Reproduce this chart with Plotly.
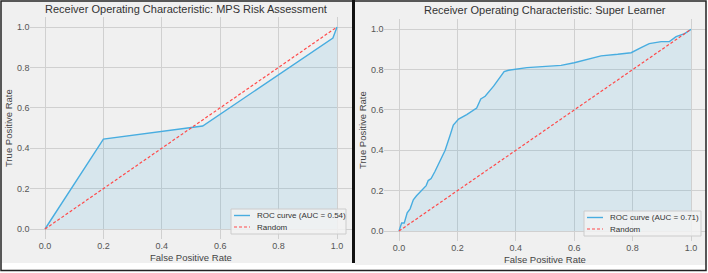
import plotly.graph_objects as go

# ---------------- data ----------------
mps_fpr = [0.0, 0.2, 0.54, 0.986, 1.0]
mps_tpr = [0.0, 0.445, 0.51, 0.945, 1.0]

sl_fpr = [0.0, 0.009, 0.018, 0.028, 0.038, 0.049, 0.06, 0.078, 0.093, 0.10, 0.11, 0.123,
          0.14, 0.158, 0.175, 0.186, 0.204, 0.232, 0.266, 0.28, 0.295, 0.324, 0.36, 0.375,
          0.438, 0.497, 0.555, 0.60, 0.692, 0.749, 0.795, 0.829, 0.857, 0.898, 0.926,
          0.949, 0.978, 1.0]
sl_tpr = [0.0, 0.04, 0.04, 0.09, 0.11, 0.155, 0.175, 0.20, 0.225, 0.25, 0.26, 0.295,
          0.345, 0.40, 0.475, 0.525, 0.555, 0.577, 0.61, 0.655, 0.668, 0.718, 0.79, 0.797,
          0.81, 0.817, 0.821, 0.834, 0.868, 0.876, 0.884, 0.909, 0.929, 0.939, 0.939,
          0.964, 0.979, 1.0]

random_x = [0.0, 1.0]
random_y = [0.0, 1.0]

titles = ["Receiver Operating Characteristic: MPS Risk Assessment",
          "Receiver Operating Characteristic: Super Learner"]
roc_labels = ["ROC curve (AUC = 0.54)", "ROC curve (AUC = 0.71)"]
random_label = "Random"
x_title = "False Positive Rate"
y_title = "True Positive Rate"
tick_vals = [0.0, 0.2, 0.4, 0.6, 0.8, 1.0]
tick_text = ["0.0", "0.2", "0.4", "0.6", "0.8", "1.0"]

# ---------------- style ----------------
W, H = 708, 273
FONT = "Liberation Sans, Arial, sans-serif"
LINE = "#48ade0"
FILL = "rgba(48,162,218,0.13)"
RED = "#ff4a4a"
BG = "#f0f0f0"
GRID = "#d0d0d0"
DASH = "3px,2px"


def px(x):
    return x / W


def py(y):
    return 1 - y / H


fig = go.Figure()

curves = [(mps_fpr, mps_tpr, "x", "y"), (sl_fpr, sl_tpr, "x2", "y2")]
for fpr, tpr, xa, ya in curves:
    fig.add_trace(go.Scatter(x=fpr, y=tpr, mode="lines", fill="tozeroy",
                             fillcolor=FILL, line=dict(color=LINE, width=1.4),
                             xaxis=xa, yaxis=ya, showlegend=False, hoverinfo="skip"))
    fig.add_trace(go.Scatter(x=random_x, y=random_y, mode="lines",
                             line=dict(color=RED, width=1.2, dash=DASH),
                             xaxis=xa, yaxis=ya, showlegend=False, hoverinfo="skip"))

axis_common = dict(range=[-0.05, 1.05], tickvals=tick_vals, ticktext=tick_text,
                   showgrid=True, gridcolor=GRID, gridwidth=1, zeroline=False,
                   showline=False, ticks="", tickfont=dict(size=9, color="#555555", family=FONT))

# pixel geometry of each panel
left = dict(x0=45, x1=337, y0=229, y1=27)
right = dict(x0=399, x1=691, y0=231, y1=29.3)


def dom(p):
    sx = (p["x1"] - p["x0"])
    sy = (p["y0"] - p["y1"])
    xd = [px(p["x0"] - 0.05 * sx), min(1.0, px(p["x1"] + 0.05 * sx))]
    yd = [py(p["y0"] + 0.05 * sy), py(p["y1"] - 0.05 * sy)]
    return xd, yd


lx, ly = dom(left)
rx, ry = dom(right)

fig.update_layout(
    width=W, height=H, margin=dict(l=0, r=0, t=0, b=0),
    paper_bgcolor="white", plot_bgcolor=BG,
    font=dict(family=FONT),
    xaxis=dict(domain=lx, anchor="y", **axis_common),
    yaxis=dict(domain=ly, anchor="x", **axis_common),
    xaxis2=dict(domain=rx, anchor="y2", **axis_common),
    yaxis2=dict(domain=ry, anchor="x2", **axis_common),
)

shapes = []
# panel backgrounds
shapes.append(dict(type="rect", xref="paper", yref="paper", x0=px(1.5), x1=px(352), y0=py(263), y1=py(1.5),
                   fillcolor=BG, line=dict(width=0), layer="below"))
shapes.append(dict(type="rect", xref="paper", yref="paper", x0=px(355), x1=px(705.5), y0=py(265), y1=py(1.5),
                   fillcolor=BG, line=dict(width=0), layer="below"))
# outer border
shapes.append(dict(type="rect", xref="paper", yref="paper", x0=px(1), x1=px(706), y0=py(270.5), y1=py(1),
                   line=dict(color="#222222", width=1.5), fillcolor="rgba(0,0,0,0)", layer="above"))
# separator
shapes.append(dict(type="line", xref="paper", yref="paper", x0=px(353.5), x1=px(353.5), y0=py(263), y1=py(0),
                   line=dict(color="#111111", width=3), layer="above"))

annotations = []
# titles
annotations.append(dict(text=titles[0], x=px(186), y=py(8.5), xref="paper", yref="paper",
                        showarrow=False, xanchor="center", yanchor="middle",
                        font=dict(size=11, color="#333333", family=FONT)))
annotations.append(dict(text=titles[1], x=px(544.5), y=py(10), xref="paper", yref="paper",
                        showarrow=False, xanchor="center", yanchor="middle",
                        font=dict(size=11, color="#333333", family=FONT)))
# axis titles
for cx, cy in [(191, 257), (545, 259)]:
    annotations.append(dict(text=x_title, x=px(cx), y=py(cy), xref="paper", yref="paper",
                            showarrow=False, xanchor="center", yanchor="middle",
                            font=dict(size=9.5, color="#444444", family=FONT)))
for cx, cy in [(8, 128), (362, 130)]:
    annotations.append(dict(text=y_title, x=px(cx), y=py(cy), xref="paper", yref="paper",
                            showarrow=False, xanchor="center", yanchor="middle", textangle=-90,
                            font=dict(size=9.5, color="#444444", family=FONT)))

# legends (custom boxes)
legends = [dict(x0=231, x1=346, y0=209, y1=234, label=roc_labels[0]),
           dict(x0=584, x1=701, y0=211, y1=236, label=roc_labels[1])]
for lg in legends:
    x0, x1, y0, y1 = lg["x0"], lg["x1"], lg["y0"], lg["y1"]
    shapes.append(dict(type="rect", xref="paper", yref="paper", x0=px(x0), x1=px(x1), y0=py(y1), y1=py(y0),
                       fillcolor="rgba(242,242,242,0.85)", line=dict(color="#cccccc", width=1), layer="above"))
    row1 = y0 + 6.5
    row2 = y0 + 18
    shapes.append(dict(type="line", xref="paper", yref="paper", x0=px(x0 + 3), x1=px(x0 + 19),
                       y0=py(row1), y1=py(row1), line=dict(color=LINE, width=1.4), layer="above"))
    shapes.append(dict(type="line", xref="paper", yref="paper", x0=px(x0 + 3), x1=px(x0 + 19),
                       y0=py(row2), y1=py(row2), line=dict(color=RED, width=1.2, dash=DASH), layer="above"))
    annotations.append(dict(text=lg["label"], x=px(x0 + 24), y=py(row1), xref="paper", yref="paper",
                            showarrow=False, xanchor="left", yanchor="middle",
                            font=dict(size=8, color="#333333", family=FONT)))
    annotations.append(dict(text=random_label, x=px(x0 + 24), y=py(row2), xref="paper", yref="paper",
                            showarrow=False, xanchor="left", yanchor="middle",
                            font=dict(size=8, color="#333333", family=FONT)))

fig.update_layout(shapes=shapes, annotations=annotations)
fig.write_html("out.html", config={"displayModeBar": False},
               post_script="document.body.style.margin='0';document.body.style.overflow='hidden';")
